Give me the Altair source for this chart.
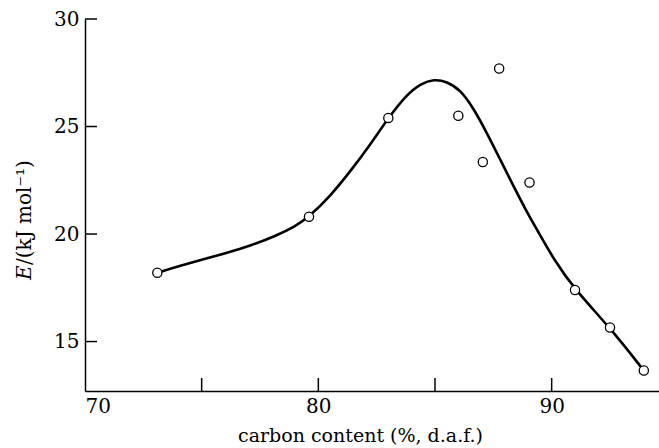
import altair as alt
import pandas as pd

# measured data points (open circles)
pt_x = [73.1, 79.6, 83.0, 86.0, 87.05, 87.75, 89.05, 91.0, 92.5, 93.95]
pt_y = [18.2, 20.8, 25.4, 25.5, 23.35, 27.7, 22.4, 17.4, 15.65, 13.65]

# hand-drawn smooth curve
curve_x = [73.1, 74.0, 75.0, 76.0, 77.1, 78.25, 79.0, 79.6, 80.5, 81.4, 82.25,
           83.0, 83.8, 84.4, 84.95, 85.5, 86.1, 86.65, 87.25, 87.8, 88.4, 88.9,
           89.4, 90.1, 91.0, 92.5, 93.95]
curve_y = [18.2, 18.5, 18.8, 19.1, 19.45, 19.95, 20.35, 20.8, 21.75, 22.95, 24.2,
           25.4, 26.5, 27.0, 27.2, 27.1, 26.7, 25.85, 24.65, 23.45, 22.15, 21.1,
           20.15, 18.8, 17.4, 15.65, 13.65]

x_ticks = [70, 75, 80, 85, 90]
y_ticks = [15, 20, 25, 30]
x_title = "carbon content (%, d.a.f.)"
y_title_italic = "E"
y_title_rest = "/(kJ mol\u207b\u00b9)"

X_DOMAIN = [70, 94.6]
Y_DOMAIN = [12.7, 30]
W, H = 574, 372
FONT = "DejaVu Serif"

pts = pd.DataFrame({"x": pt_x, "y": pt_y})
curve = pd.DataFrame({"x": curve_x, "y": curve_y})

xs = alt.Scale(domain=X_DOMAIN, nice=False, zero=False)
ys = alt.Scale(domain=Y_DOMAIN, nice=False, zero=False)

x_axis = alt.Axis(values=x_ticks, title=x_title, ticks=False, tickSize=0,
                  labelExpr="datum.value % 10 == 0 ? datum.label : ''",
                  labelPadding=5, titlePadding=10, titleFontWeight="normal",
                  titleFontSize=19, titleFont=FONT, titleX=275, grid=False)
y_axis = alt.Axis(values=y_ticks, title=None, ticks=False, tickSize=0,
                  labelPadding=6, grid=False)

line = alt.Chart(curve).mark_line(color="black", strokeWidth=2.6,
                                  interpolate="basis").encode(
    x=alt.X("x:Q", scale=xs, axis=x_axis),
    y=alt.Y("y:Q", scale=ys, axis=y_axis),
)

points = alt.Chart(pts).mark_circle(size=85, fill="white", stroke="black",
                                    strokeWidth=1.3, opacity=1).encode(
    x=alt.X("x:Q", scale=xs),
    y=alt.Y("y:Q", scale=ys),
)

ytick_df = pd.DataFrame({"v": y_ticks})
xtick_df = pd.DataFrame({"v": [v for v in x_ticks if v > 70]})

yticks = alt.Chart(ytick_df).mark_rule(color="black", strokeWidth=1.5).encode(
    y=alt.Y("v:Q", scale=ys),
    x=alt.value(0), x2=alt.value(12),
)
xticks = alt.Chart(xtick_df).mark_rule(color="black", strokeWidth=1.5).encode(
    x=alt.X("v:Q", scale=xs),
    y=alt.value(H), y2=alt.value(H - 13),
)

ytitle_e = alt.Chart(pd.DataFrame({"t": [y_title_italic]})).mark_text(
    angle=270, align="left", baseline="middle", font=FONT, fontSize=20,
    fontStyle="italic", color="#000000").encode(
    text="t:N", x=alt.value(-60), y=alt.value(261))
ytitle_rest = alt.Chart(pd.DataFrame({"t": [y_title_rest]})).mark_text(
    angle=270, align="left", baseline="middle", font=FONT, fontSize=20,
    color="#000000").encode(
    text="t:N", x=alt.value(-60), y=alt.value(246))

chart = alt.layer(line, points, yticks, xticks, ytitle_e, ytitle_rest).properties(
    width=W, height=H,
    autosize=alt.AutoSizeParams(type="none"),
    padding={"left": 85, "top": 19, "right": 0, "bottom": 57},
    background="white",
).configure_view(strokeWidth=0).configure_axis(
    domainColor="black", domainWidth=1.5, labelFont=FONT, labelFontSize=20,
    labelColor="black", titleColor="black",
)

chart.save("out.html", embed_options={"renderer": "svg", "actions": False})
